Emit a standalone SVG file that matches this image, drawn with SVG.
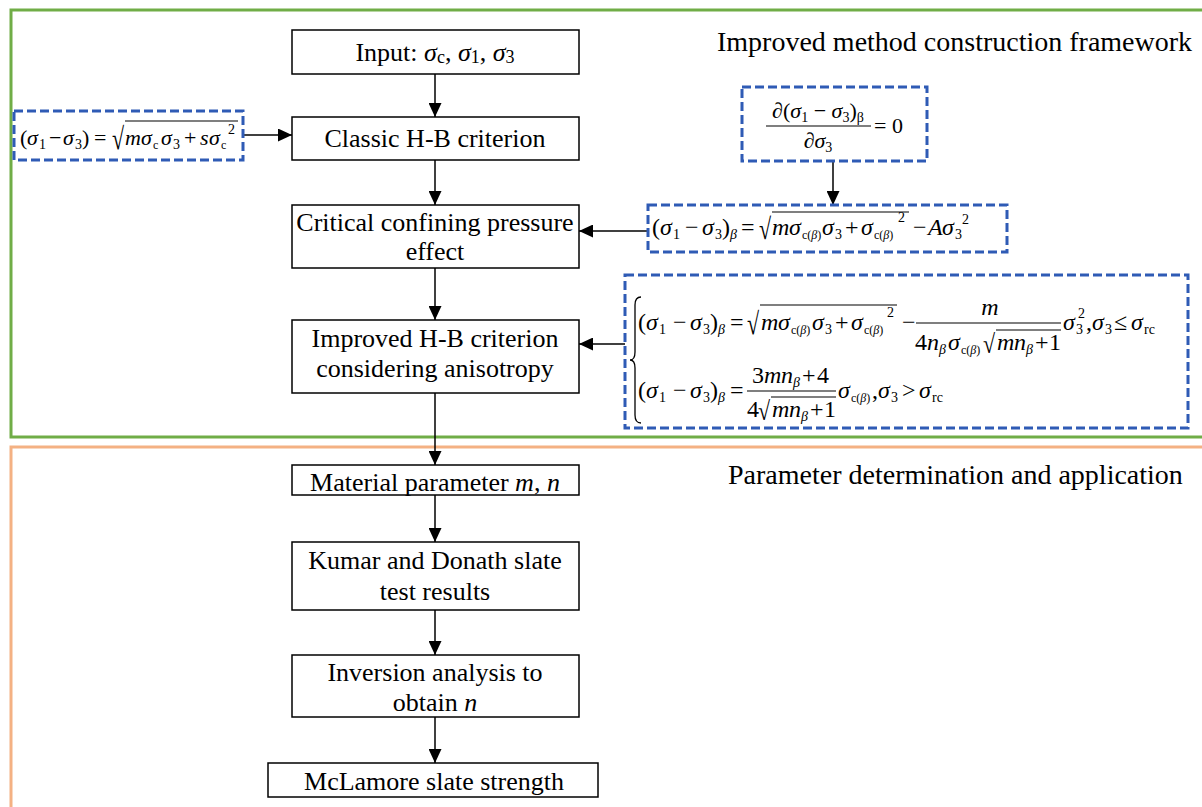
<svg xmlns="http://www.w3.org/2000/svg" width="1202" height="807" viewBox="0 0 1202 807">
<style>
text{font-family:"Liberation Serif","Times New Roman",serif;fill:#000}
.bt{font-size:26px;text-anchor:middle}
.ti{font-size:28px}
.it{font-style:italic}
.box{fill:#fff;stroke:#000;stroke-width:1.5}
.dash{fill:none;stroke:#2f5bb5;stroke-width:3;stroke-dasharray:9 4}
.con{stroke:#000;stroke-width:1.5;fill:none;marker-end:url(#ah)}
.vin{stroke:#000;stroke-width:1.1}
.f{font-size:24px}
.f1{font-size:22px}
.s{font-size:14px}
.ss{font-size:12px}
</style>
<defs>
<marker id="ah" viewBox="0 0 14 13" refX="14" refY="6.5" markerWidth="14" markerHeight="13" markerUnits="userSpaceOnUse" orient="auto"><path d="M0,0 L14,6.5 L0,13 z" fill="#000"/></marker>
</defs>
<rect width="1202" height="807" fill="#fff"/>
<g id="frames">
<rect x="11" y="10" width="1220" height="427" fill="none" stroke="#70ad47" stroke-width="3"/>
<rect x="11" y="447" width="1220" height="400" fill="none" stroke="#f4b183" stroke-width="3"/>
<text class="ti" x="717" y="51">Improved method construction framework</text>
<text class="ti" x="728" y="484">Parameter determination and application</text>
</g>
<g id="connectors">
<line class="con" x1="435" y1="74" x2="435" y2="117"/>
<line class="con" x1="435" y1="160" x2="435" y2="205"/>
<line class="con" x1="435" y1="268" x2="435" y2="320"/>
<line class="con" x1="435" y1="393" x2="435" y2="465"/>
<line class="con" x1="435" y1="495" x2="435" y2="542"/>
<line class="con" x1="435" y1="610" x2="435" y2="655"/>
<line class="con" x1="435" y1="717" x2="435" y2="763"/>
<line class="con" x1="243" y1="135" x2="292" y2="135"/>
<line class="con" x1="833" y1="161" x2="833" y2="205"/>
<line class="con" x1="648" y1="231" x2="579" y2="231"/>
<line class="con" x1="625" y1="344" x2="579" y2="344"/>
</g>
<g id="n-input">
<rect class="box" x="292" y="30" width="287" height="44"/>
<text class="bt" x="435" y="61">Input: <tspan class="it">σ</tspan><tspan font-size="18" dy="2">c</tspan><tspan dy="-2">, </tspan><tspan class="it">σ</tspan><tspan font-size="18" dy="2">1</tspan><tspan dy="-2">, </tspan><tspan class="it">σ</tspan><tspan font-size="18" dy="2">3</tspan></text>
</g>
<g id="n-classic">
<rect class="box" x="292" y="117" width="287" height="43"/>
<text class="bt" x="435" y="147">Classic H-B criterion</text>
</g>
<g id="n-critical">
<rect class="box" x="292" y="205" width="287" height="63"/>
<text class="bt" x="435" y="231">Critical confining pressure</text>
<text class="bt" x="435" y="260">effect</text>
</g>
<g id="n-improved">
<rect class="box" x="292" y="320" width="287" height="73"/>
<text class="bt" x="435" y="347">Improved H-B criterion</text>
<text class="bt" x="435" y="377">considering anisotropy</text>
</g>
<g id="n-material">
<rect class="box" x="292" y="465" width="287" height="30"/>
<text class="bt" x="435" y="491">Material parameter <tspan class="it">m</tspan>, <tspan class="it">n</tspan></text>
</g>
<g id="n-kumar">
<rect class="box" x="292" y="542" width="287" height="68"/>
<text class="bt" x="435" y="569">Kumar and Donath slate</text>
<text class="bt" x="435" y="600">test results</text>
</g>
<g id="n-inversion">
<rect class="box" x="292" y="655" width="287" height="62"/>
<text class="bt" x="435" y="681">Inversion analysis to</text>
<text class="bt" x="435" y="711">obtain <tspan class="it">n</tspan></text>
</g>
<g id="n-mclamore">
<rect class="box" x="268" y="763" width="330" height="34"/>
<text class="bt" x="434" y="790">McLamore slate strength</text>
</g>
<g id="eq-classic">
<rect class="dash" x="14" y="111" width="229" height="49"/>
<text class="f1"><tspan x="20" y="145">(</tspan><tspan class="it" x="27" y="145">σ</tspan><tspan class="s" x="39" y="149">1</tspan><tspan x="49" y="145">−</tspan><tspan class="it" x="63" y="145">σ</tspan><tspan class="s" x="75" y="149">3</tspan><tspan x="82" y="145">)</tspan><tspan x="94" y="145">=</tspan><tspan class="it" x="125" y="145">m</tspan><tspan class="it" x="141" y="145">σ</tspan><tspan class="ss" x="153" y="149">c</tspan><tspan class="it" x="161" y="145">σ</tspan><tspan class="s" x="173" y="149">3</tspan><tspan x="184" y="145">+</tspan><tspan class="it" x="200" y="145">s</tspan><tspan class="it" x="209" y="145">σ</tspan><tspan class="ss" x="221" y="149">c</tspan><tspan class="s" x="228" y="134">2</tspan></text>
<text transform="translate(112,149) scale(1,1.4)" font-size="22">√</text>
<line class="vin" x1="125" y1="121" x2="238" y2="121"/>
</g>
<g id="eq-derivative">
<rect class="dash" x="742" y="87" width="185" height="74"/>
<text class="f1" x="818" y="118" text-anchor="middle">∂(<tspan class="it">σ</tspan><tspan class="s" dy="4">1</tspan><tspan dy="-4"> − </tspan><tspan class="it">σ</tspan><tspan class="s" dy="4">3</tspan><tspan dy="-4">)</tspan><tspan class="s" dy="4">β</tspan></text>
<line class="vin" x1="766" y1="126" x2="871" y2="126"/>
<text class="f1" x="818" y="148" text-anchor="middle">∂<tspan class="it">σ</tspan><tspan class="s" dy="4">3</tspan></text>
<text class="f1" x="874" y="133">= 0</text>
</g>
<g id="eq-critical">
<rect class="dash" x="648" y="205" width="359" height="47"/>
<text class="f"><tspan x="652" y="235">(</tspan><tspan class="it" x="660" y="235">σ</tspan><tspan class="s" x="673" y="239">1</tspan><tspan x="685" y="235">−</tspan><tspan class="it" x="702" y="235">σ</tspan><tspan class="s" x="715" y="239">3</tspan><tspan x="722" y="235">)</tspan><tspan class="s it" x="730" y="239">β</tspan><tspan x="741" y="235">=</tspan><tspan class="it" x="772" y="235">m</tspan><tspan class="it" x="789" y="235">σ</tspan><tspan class="ss" x="802" y="239">c(<tspan class="it">β</tspan>)</tspan><tspan class="it" x="822" y="235">σ</tspan><tspan class="s" x="835" y="239">3</tspan><tspan x="845" y="235">+</tspan><tspan class="it" x="861" y="235">σ</tspan><tspan class="ss" x="874" y="239">c(<tspan class="it">β</tspan>)</tspan><tspan class="s" x="898" y="222">2</tspan><tspan x="913" y="235">−</tspan><tspan class="it" x="928" y="235">A</tspan><tspan class="it" x="942" y="235">σ</tspan><tspan class="s" x="955" y="239">3</tspan><tspan class="s" x="962" y="224">2</tspan></text>
<text transform="translate(759,239) scale(1,1.35)" font-size="22">√</text>
<line class="vin" x1="772" y1="212" x2="909" y2="212"/>
</g>
<g id="eq-improved">
<rect class="dash" x="625" y="275" width="563" height="153"/>
<path d="M641,297 Q635,297 635,305 L635,352 Q635,360 630,360 Q635,360 635,368 L635,415 Q635,423 641,423" fill="none" stroke="#000" stroke-width="1.3"/>
<text class="f"><tspan x="638" y="330">(</tspan><tspan class="it" x="646" y="330">σ</tspan><tspan class="s" x="659" y="334">1</tspan><tspan x="673" y="330">−</tspan><tspan class="it" x="690" y="330">σ</tspan><tspan class="s" x="703" y="334">3</tspan><tspan x="710" y="330">)</tspan><tspan class="s it" x="718" y="334">β</tspan><tspan x="730" y="330">=</tspan><tspan class="it" x="761" y="330">m</tspan><tspan class="it" x="778" y="330">σ</tspan><tspan class="ss" x="791" y="334">c(<tspan class="it">β</tspan>)</tspan><tspan class="it" x="812" y="330">σ</tspan><tspan class="s" x="825" y="334">3</tspan><tspan x="835" y="330">+</tspan><tspan class="it" x="851" y="330">σ</tspan><tspan class="ss" x="864" y="334">c(<tspan class="it">β</tspan>)</tspan><tspan class="s" x="887" y="317">2</tspan><tspan x="902" y="330">−</tspan><tspan class="it" x="1063" y="330">σ</tspan><tspan class="s" x="1076" y="334">3</tspan><tspan class="s" x="1078" y="318">2</tspan><tspan x="1086" y="330">,</tspan><tspan class="it" x="1092" y="330">σ</tspan><tspan class="s" x="1105" y="334">3</tspan><tspan x="1114" y="330">≤</tspan><tspan class="it" x="1131" y="330">σ</tspan><tspan class="s" x="1144" y="334">rc</tspan></text>
<text transform="translate(747,334) scale(1,1.4)" font-size="22">√</text>
<line class="vin" x1="760" y1="305" x2="897" y2="305"/>
<text class="f it" x="990" y="315" text-anchor="middle">m</text>
<line class="vin" x1="916" y1="323" x2="1061" y2="323"/>
<text class="f"><tspan x="915" y="350">4</tspan><tspan class="it" x="927" y="350">n</tspan><tspan class="s it" x="939" y="354">β</tspan><tspan class="it" x="948" y="350">σ</tspan><tspan class="ss" x="961" y="354">c(<tspan class="it">β</tspan>)</tspan><tspan class="it" x="997" y="350">m</tspan><tspan class="it" x="1014" y="350">n</tspan><tspan class="s it" x="1026" y="354">β</tspan><tspan x="1035" y="350">+</tspan><tspan x="1049" y="350">1</tspan></text>
<text transform="translate(983,353) scale(1,1.2)" font-size="22">√</text>
<line class="vin" x1="996" y1="330" x2="1061" y2="330"/>
<text class="f"><tspan x="638" y="398">(</tspan><tspan class="it" x="646" y="398">σ</tspan><tspan class="s" x="659" y="402">1</tspan><tspan x="673" y="398">−</tspan><tspan class="it" x="690" y="398">σ</tspan><tspan class="s" x="703" y="402">3</tspan><tspan x="710" y="398">)</tspan><tspan class="s it" x="718" y="402">β</tspan><tspan x="730" y="398">=</tspan><tspan class="it" x="838" y="398">σ</tspan><tspan class="ss" x="851" y="402">c(<tspan class="it">β</tspan>)</tspan><tspan x="872" y="398">,</tspan><tspan class="it" x="878" y="398">σ</tspan><tspan class="s" x="891" y="402">3</tspan><tspan x="902" y="398">&gt;</tspan><tspan class="it" x="919" y="398">σ</tspan><tspan class="s" x="932" y="402">rc</tspan></text>
<text class="f"><tspan x="752" y="383">3</tspan><tspan class="it" x="764" y="383">m</tspan><tspan class="it" x="781" y="383">n</tspan><tspan class="s it" x="793" y="387">β</tspan><tspan x="802" y="383">+</tspan><tspan x="817" y="383">4</tspan></text>
<line class="vin" x1="747" y1="391" x2="836" y2="391"/>
<text class="f"><tspan x="747" y="417">4</tspan><tspan class="it" x="772" y="417">m</tspan><tspan class="it" x="789" y="417">n</tspan><tspan class="s it" x="801" y="421">β</tspan><tspan x="810" y="417">+</tspan><tspan x="824" y="417">1</tspan></text>
<text transform="translate(758,420) scale(1,1.2)" font-size="22">√</text>
<line class="vin" x1="771" y1="397" x2="836" y2="397"/>
</g>
</svg>
